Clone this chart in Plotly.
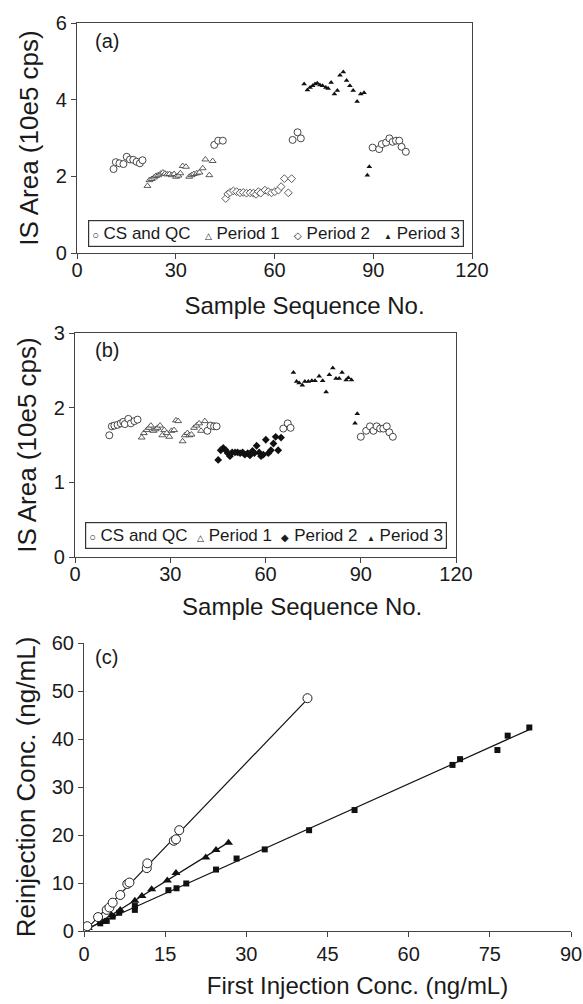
import numpy as np
import plotly.graph_objects as go

W, H = 583, 1004

# ---------------- Panel (a) data ----------------
a_cs_x = [11.1, 11.8, 12.9, 14.1, 15.1, 16.1, 17.1, 18.1, 19.1, 19.9,
          41.7, 42.9, 44.3, 65.5, 67.0, 68.0,
          89.8, 91.8, 92.6, 93.9, 94.9, 95.9, 96.9, 97.9, 98.6, 99.9]
a_cs_y = [2.19, 2.37, 2.34, 2.32, 2.51, 2.44, 2.43, 2.38, 2.34, 2.42,
          2.82, 2.93, 2.93, 2.95, 3.15, 2.99,
          2.75, 2.71, 2.84, 2.88, 2.99, 2.90, 2.93, 2.93, 2.77, 2.64]
a_p1_x = [21.4, 22.0, 22.7, 23.4, 24.0, 24.7, 25.4, 26.1, 26.7, 27.4, 28.1, 28.8, 29.5, 30.1,
          30.8, 31.4, 32.1, 33.1, 34.1, 34.8, 35.5, 36.4, 37.2, 38.2, 39.0, 40.2, 41.2]
a_p1_y = [1.75, 1.90, 1.93, 1.97, 2.01, 2.03, 2.07, 2.10, 2.07, 2.05, 2.06, 2.03, 2.06, 1.99,
          2.02, 2.08, 2.27, 2.25, 1.99, 2.03, 2.06, 2.08, 2.10, 2.21, 2.44, 2.03, 2.40]
a_p2_x = [45.2, 45.8, 46.5, 47.5, 48.5, 49.5, 50.5, 51.5, 52.6, 53.6, 54.4, 55.1, 55.8, 57.1,
          58.1, 59.1, 60.1, 61.2, 62.0, 63.0, 64.2, 65.2]
a_p2_y = [1.42, 1.54, 1.58, 1.62, 1.60, 1.57, 1.58, 1.56, 1.57, 1.56, 1.53, 1.60, 1.56, 1.64,
          1.60, 1.57, 1.60, 1.64, 1.73, 1.94, 1.57, 1.94]
a_p3_x = [69.0, 70.0, 70.8, 71.6, 72.3, 73.0, 73.8, 74.6, 75.6, 76.3, 77.2, 78.2, 79.1, 79.9,
          80.9, 81.9, 82.9, 83.9, 85.1, 86.2, 87.2, 88.2, 88.8]
a_p3_y = [4.41, 4.25, 4.32, 4.36, 4.41, 4.43, 4.38, 4.36, 4.32, 4.29, 4.45, 4.15, 4.24, 4.64,
          4.72, 4.50, 4.36, 4.24, 3.95, 4.15, 4.18, 2.03, 2.25]

# ---------------- Panel (b) data ----------------
b_cs_x = [10.8, 11.6, 12.4, 13.4, 14.4, 15.2, 15.7, 16.8, 17.6, 18.7, 19.7,
          41.7, 42.7, 43.8, 44.6, 65.6, 67.0, 67.9,
          90.0, 91.7, 92.9, 94.0, 95.0, 96.1, 97.1, 98.2, 99.0, 100.1]
b_cs_y = [1.63, 1.75, 1.76, 1.77, 1.79, 1.81, 1.78, 1.85, 1.79, 1.82, 1.84,
          1.69, 1.76, 1.75, 1.75, 1.72, 1.79, 1.73,
          1.61, 1.69, 1.75, 1.69, 1.75, 1.72, 1.72, 1.75, 1.67, 1.61]
b_p1_x = [21.0, 21.7, 22.6, 23.3, 23.9, 24.7, 25.4, 26.0, 26.8, 27.5, 28.1, 28.9, 29.7, 30.4,
          31.2, 31.8, 32.5, 33.9, 34.6, 35.4, 36.0, 36.7, 37.5, 38.3, 39.1, 39.7, 40.9]
b_p1_y = [1.60, 1.66, 1.70, 1.73, 1.76, 1.69, 1.71, 1.73, 1.76, 1.63, 1.70, 1.66, 1.61, 1.69,
          1.70, 1.83, 1.82, 1.55, 1.63, 1.66, 1.63, 1.64, 1.73, 1.76, 1.79, 1.69, 1.82]
b_p2_x = [45.1, 45.9, 46.7, 47.5, 48.1, 48.8, 49.5, 50.4, 51.2, 52.0, 52.8, 53.5, 54.4, 55.1,
          55.9, 56.5, 57.2, 58.0, 58.6, 59.3, 60.1, 60.9, 61.7, 62.5, 63.2, 64.0, 64.9]
b_p2_y = [1.30, 1.43, 1.46, 1.43, 1.39, 1.35, 1.40, 1.40, 1.40, 1.39, 1.40, 1.37, 1.39, 1.36,
          1.42, 1.39, 1.49, 1.40, 1.35, 1.37, 1.57, 1.39, 1.43, 1.52, 1.61, 1.43, 1.60]
b_p3_x = [68.8, 69.8, 70.6, 71.6, 72.4, 73.5, 74.6, 75.6, 76.9, 78.0, 79.1, 80.1, 81.2, 82.2,
          83.2, 84.1, 85.4, 86.1, 87.1, 88.2, 88.9]
b_p3_y = [2.47, 2.35, 2.33, 2.30, 2.35, 2.35, 2.36, 2.36, 2.42, 2.36, 2.21, 2.44, 2.53, 2.39,
          2.39, 2.47, 2.37, 2.40, 2.37, 1.79, 1.92]

# ---------------- Panel (c) data ----------------
c_circ_x = [0.0, 0.6, 2.6, 4.2, 4.7, 5.3, 6.7, 8.0, 8.4, 11.6, 11.7, 16.6, 17.0, 17.6, 41.3]
c_circ_y = [0.0, 1.0, 2.9, 4.4, 4.9, 5.9, 7.5, 9.8, 10.1, 13.1, 14.1, 18.8, 19.1, 21.0, 48.5]
c_tri_x = [0.8, 3.4, 5.1, 6.7, 9.4, 10.7, 12.5, 15.4, 17.0, 22.5, 24.4, 26.7]
c_tri_y = [0.6, 1.9, 3.3, 4.4, 6.3, 7.3, 8.7, 10.5, 12.1, 15.3, 16.9, 18.4]
c_sq_x = [0.5, 3.0, 4.2, 5.3, 6.5, 9.4, 9.4, 15.6, 17.1, 18.9, 24.4, 28.2, 33.4, 41.6, 50.0,
          68.1, 69.5, 76.4, 78.3, 82.3]
c_sq_y = [0.35, 1.6, 2.1, 3.0, 3.8, 4.4, 5.2, 8.5, 8.9, 9.9, 12.8, 15.1, 17.0, 21.0, 25.2,
          34.6, 35.8, 37.7, 40.7, 42.4]

x_ticks_ab = [0, 30, 60, 90, 120]
y_ticks_a = [0, 2, 4, 6]
y_ticks_b = [0, 1, 2, 3]
x_ticks_c = [0, 15, 30, 45, 60, 75, 90]
y_ticks_c = [0, 10, 20, 30, 40, 50, 60]

FONT = "Liberation Sans, Arial, sans-serif"
AX = "#444444"
TXT = "#1a1a1a"


def px_x(p):
    return p / W


def px_y(p):
    return 1 - p / H


fig = go.Figure()

fig.add_trace(go.Scatter(x=a_p1_x, y=a_p1_y, mode="markers", xaxis="x", yaxis="y",
                         marker=dict(symbol="triangle-up", size=6, color="white",
                                     line=dict(color="#333", width=0.8))))
fig.add_trace(go.Scatter(x=a_p2_x, y=a_p2_y, mode="markers", xaxis="x", yaxis="y",
                         marker=dict(symbol="diamond", size=6, color="white",
                                     line=dict(color="#333", width=0.8))))
fig.add_trace(go.Scatter(x=a_p3_x, y=a_p3_y, mode="markers", xaxis="x", yaxis="y",
                         marker=dict(symbol="triangle-up", size=5, color="#111",
                                     line=dict(color="#111", width=0))))
fig.add_trace(go.Scatter(x=a_cs_x, y=a_cs_y, mode="markers", xaxis="x", yaxis="y",
                         marker=dict(symbol="circle", size=7, color="white",
                                     line=dict(color="#333", width=0.9))))

fig.add_trace(go.Scatter(x=b_p1_x, y=b_p1_y, mode="markers", xaxis="x2", yaxis="y2",
                         marker=dict(symbol="triangle-up", size=6, color="white",
                                     line=dict(color="#333", width=0.8))))
fig.add_trace(go.Scatter(x=b_p2_x, y=b_p2_y, mode="markers", xaxis="x2", yaxis="y2",
                         marker=dict(symbol="diamond", size=6, color="#111",
                                     line=dict(color="#111", width=0))))
fig.add_trace(go.Scatter(x=b_p3_x, y=b_p3_y, mode="markers", xaxis="x2", yaxis="y2",
                         marker=dict(symbol="triangle-up", size=5, color="#111",
                                     line=dict(color="#111", width=0))))
fig.add_trace(go.Scatter(x=b_cs_x, y=b_cs_y, mode="markers", xaxis="x2", yaxis="y2",
                         marker=dict(symbol="circle", size=7, color="white",
                                     line=dict(color="#333", width=0.9))))

for xs, ys in [(c_circ_x, c_circ_y), (c_tri_x, c_tri_y), (c_sq_x, c_sq_y)]:
    xa = np.array(xs)
    k, b = np.polyfit(xa, np.array(ys), 1)
    xl = np.array([xa.min(), xa.max()])
    fig.add_trace(go.Scatter(x=xl, y=k * xl + b, mode="lines", xaxis="x3", yaxis="y3",
                             line=dict(color="#111", width=1.2)))
fig.add_trace(go.Scatter(x=c_sq_x, y=c_sq_y, mode="markers", xaxis="x3", yaxis="y3",
                         marker=dict(symbol="square", size=6, color="#111",
                                     line=dict(color="#111", width=0))))
fig.add_trace(go.Scatter(x=c_tri_x, y=c_tri_y, mode="markers", xaxis="x3", yaxis="y3",
                         marker=dict(symbol="triangle-up", size=8, color="#111",
                                     line=dict(color="#111", width=0))))
fig.add_trace(go.Scatter(x=c_circ_x, y=c_circ_y, mode="markers", xaxis="x3", yaxis="y3",
                         marker=dict(symbol="circle", size=9, color="white",
                                     line=dict(color="#222", width=1))))

common = dict(showgrid=False, zeroline=False, showline=True, linecolor=AX, linewidth=1.2,
              ticks="outside", ticklen=5, tickwidth=1.2, tickcolor=AX, automargin=False,
              tickfont=dict(family=FONT, size=20, color=TXT))
xt = dict(family=FONT, size=24, color=TXT)
yt = dict(family=FONT, size=26, color=TXT)
NB = "\u00a0"


def shifted(text, n):
    # leading padding inside a span so the visible title sits right of centre
    return "<span>" + NB * n + "</span>" + text


fig.update_layout(
    width=W, height=H, margin=dict(l=0, r=0, t=0, b=0, pad=0), autosize=False,
    paper_bgcolor="white", plot_bgcolor="white", showlegend=False,
    xaxis=dict(domain=[px_x(77), px_x(472)], anchor="y", range=[0, 120], tickvals=x_ticks_ab,
               mirror=True, ticklabelstandoff=-6,
               title=dict(text=shifted("Sample Sequence No.", 9), standoff=17, font=xt), **common),
    yaxis=dict(domain=[px_y(253), px_y(23)], anchor="x", range=[0, 6], tickvals=y_ticks_a,
               mirror=True, title=dict(text="IS Area (10e5 cps)", standoff=9, font=yt), **common),
    xaxis2=dict(domain=[px_x(75), px_x(456)], anchor="y2", range=[0, 120], tickvals=x_ticks_ab,
                mirror=True, ticklabelstandoff=-6,
                title=dict(text=shifted("Sample Sequence No.", 11), standoff=14, font=xt), **common),
    yaxis2=dict(domain=[px_y(557), px_y(333)], anchor="x2", range=[0, 3], tickvals=y_ticks_b,
                mirror=True, title=dict(text="IS Area (10e5 cps)", standoff=9, font=yt), **common),
    xaxis3=dict(domain=[px_x(84), px_x(571)], anchor="y3", range=[0, 90], tickvals=x_ticks_c,
                title=dict(text=shifted("First Injection Conc. (ng/mL)", 9), standoff=13, font=xt),
                **common),
    yaxis3=dict(domain=[px_y(931), px_y(643)], anchor="x3", range=[0, 60], tickvals=y_ticks_c,
                title=dict(text="Reinjection Conc. (ng/mL)", standoff=8, font=yt), **common),
)

for lab, yy in [("(a)", 41), ("(b)", 350), ("(c)", 657)]:
    fig.add_annotation(text=lab, xref="paper", yref="paper", x=px_x(93), y=px_y(yy),
                       xanchor="left", yanchor="middle", showarrow=False,
                       font=dict(family=FONT, size=20, color=TXT))


def sym(ch, size):
    return f"<span style='font-size:{size}px'>{ch}</span>"


leg_a = (sym("○", 11) + NB + "CS and QC" + NB * 3 + sym("△", 9) + NB + "Period 1" + NB * 3 +
         sym("◇", 10) + NB + "Period 2" + NB * 3 + sym("▲", 8) + NB + "Period 3")
leg_b = (sym("○", 11) + NB + "CS and QC" + NB * 2 + sym("△", 9) + NB + "Period 1" + NB * 2 +
         sym("◆", 10) + NB + "Period 2" + NB * 2 + sym("▲", 8) + NB + "Period 3")
for txt, cx, cy in [(leg_a, 276, 233), (leg_b, 265.5, 535)]:
    fig.add_annotation(text=txt, xref="paper", yref="paper", x=px_x(cx), y=px_y(cy),
                       xanchor="center", yanchor="middle", showarrow=False,
                       bordercolor="#333", borderwidth=1.2, borderpad=3, bgcolor="white",
                       font=dict(family=FONT, size=17, color=TXT))

fig.write_html("out.html")
